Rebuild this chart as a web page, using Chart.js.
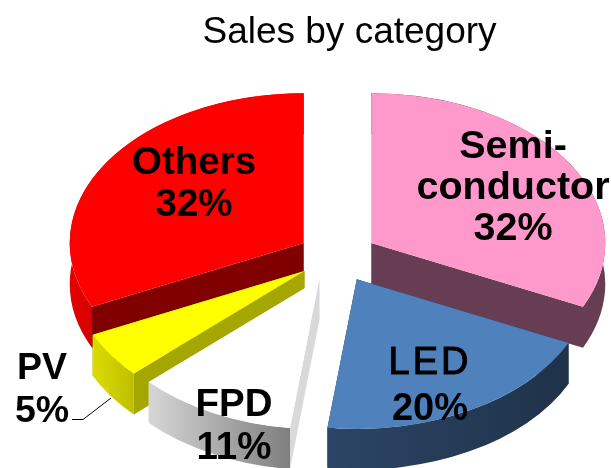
<!DOCTYPE html>
<html>
<head>
<meta charset="utf-8">
<title>Sales by category</title>
<script src="https://cdn.jsdelivr.net/npm/chart.js@4"></script>
<style>
    html, body { margin: 0; padding: 0; background: #fff; }
    canvas { display: block; }
</style>
</head>
<body>
<canvas id="graph" width="611" height="468"></canvas>
<script>
// values, clockwise from 12 o'clock
const categories = ['Semi-\nconductor', 'LED', 'FPD', 'PV', 'Others'];
const shares = [32, 20, 11, 5, 32];

// styles
const topColors = ['#ff99cc', '#4f81bd', '#ffffff', '#ffff00', '#ff0000'];
const wallColors = ['#663d52', '#1f3249', '#d9d9d9', '#a6a600', '#800000'];
const rimFrom = ['#663d52', '#2c4566', '#d6d6d6', '#dcdc00', '#e40000'];
const rimTo = ['#663d52', '#1f3249', '#7f7f7f', '#bfbf00', '#d80000'];

// label centres in px, first line / line gap / font size
const labelX = [513, 430, 234, 42, 194];
const labelY = [147, 364, 405, 369, 163];
const lineGap = [41, 46, 43, 43, 42];
const labelSize = [39.5, 38, 38.5, 37.5, 38.5];

const tilt = 0.64;      // squash of the pie
const depth = 41;       // height of the extrusion in px
const explode = 40;     // how far slices are pulled out

const graph = document.querySelector('#graph').getContext('2d');

const pie3d = {
    id: 'pie3d',
    afterLayout(chart) {
        // title sits a bit right of the pie centre
        chart.titleBlock.left += 12;
        chart.titleBlock.right += 12;
    },
    beforeDatasetDraw(chart) {
        const ctx = chart.ctx;
        const arcs = chart.getDatasetMeta(0).data;
        const order = arcs.map((a, i) => i).sort((a, b) => midY(arcs[a]) - midY(arcs[b]));
        const d = depth / tilt;

        ctx.save();
        ctx.translate(arcs[0].x, arcs[0].y);
        ctx.scale(1, tilt);

        for (let i of order) {
            const arc = arcs[i];
            const mid = (arc.startAngle + arc.endAngle) / 2;
            const r = arc.outerRadius;
            ctx.save();
            ctx.translate(Math.cos(mid) * explode, Math.sin(mid) * explode);

            // cut faces
            ctx.fillStyle = wallColors[i];
            for (let a of [arc.startAngle, arc.endAngle]) {
                ctx.beginPath();
                ctx.moveTo(0, 0);
                ctx.lineTo(Math.cos(a) * r, Math.sin(a) * r);
                ctx.lineTo(Math.cos(a) * r, Math.sin(a) * r + d);
                ctx.lineTo(0, d);
                ctx.closePath();
                ctx.fill();
            }

            // outer rim
            const x1 = Math.cos(Math.max(arc.startAngle, 0)) * r;
            const x2 = Math.cos(Math.min(arc.endAngle, Math.PI)) * r;
            const grad = ctx.createLinearGradient(Math.min(x1, x2), 0, Math.max(x1, x2), 0);
            grad.addColorStop(0, rimFrom[i]);
            grad.addColorStop(1, rimTo[i]);
            ctx.fillStyle = grad;
            ctx.beginPath();
            ctx.arc(0, 0, r, arc.startAngle, arc.endAngle);
            ctx.arc(0, d, r, arc.endAngle, arc.startAngle, true);
            ctx.closePath();
            ctx.fill();
            ctx.restore();
        }
        ctx.restore();

        // tops, drawn by the arc elements themselves
        for (let i of order) {
            const arc = arcs[i];
            const mid = (arc.startAngle + arc.endAngle) / 2;
            ctx.save();
            ctx.translate(arc.x, arc.y);
            ctx.scale(1, tilt);
            ctx.translate(Math.cos(mid) * explode - arc.x, Math.sin(mid) * explode - arc.y);
            arc.draw(ctx);
            ctx.restore();
        }
        return false;
    },
    afterDatasetsDraw(chart) {
        const ctx = chart.ctx;
        ctx.save();
        ctx.fillStyle = '#000';
        ctx.strokeStyle = '#000';
        ctx.textAlign = 'center';
        ctx.textBaseline = 'middle';
        categories.forEach((name, i) => {
            const lines = name.split('\n').concat(shares[i] + '%');
            lines.forEach((line, j) => {
                // LED is set lighter and wider than the others
                const thin = line === 'LED';
                ctx.font = (thin ? '' : 'bold ') + labelSize[i] + 'px "Liberation Sans", Arial, sans-serif';
                ctx.letterSpacing = thin ? '3px' : '0px';
                ctx.fillText(line, labelX[i], labelY[i] + j * lineGap[i]);
                if (thin) {
                    ctx.lineWidth = 1;
                    ctx.strokeText(line, labelX[i], labelY[i] + j * lineGap[i]);
                }
            });
        });

        // leader line for PV
        ctx.lineWidth = 1;
        ctx.beginPath();
        ctx.moveTo(72, 419.5);
        ctx.lineTo(83, 419.5);
        ctx.lineTo(111, 398);
        ctx.stroke();
        ctx.restore();
    }
};

function midY(arc) {
    return Math.sin((arc.startAngle + arc.endAngle) / 2);
}

new Chart(graph, {
    type: 'pie',
    plugins: [pie3d],
    data: {
        labels: categories,
        datasets: [{
            data: shares,
            backgroundColor: topColors,
            borderWidth: 0,
            radius: 234
        }]
    },
    options: {
        responsive: false,
        animation: false,
        layout: {
            padding: { left: 64, right: 0, top: 0, bottom: 17 }
        },
        plugins: {
            legend: { display: false },
            tooltip: { enabled: false },
            title: {
                display: true,
                text: 'Sales by category',
                color: '#000',
                font: { family: '"Liberation Sans", Arial, sans-serif', size: 37, weight: 'normal' },
                padding: { top: 11, bottom: 7 }
            }
        }
    }
});
</script>
</body>
</html>
